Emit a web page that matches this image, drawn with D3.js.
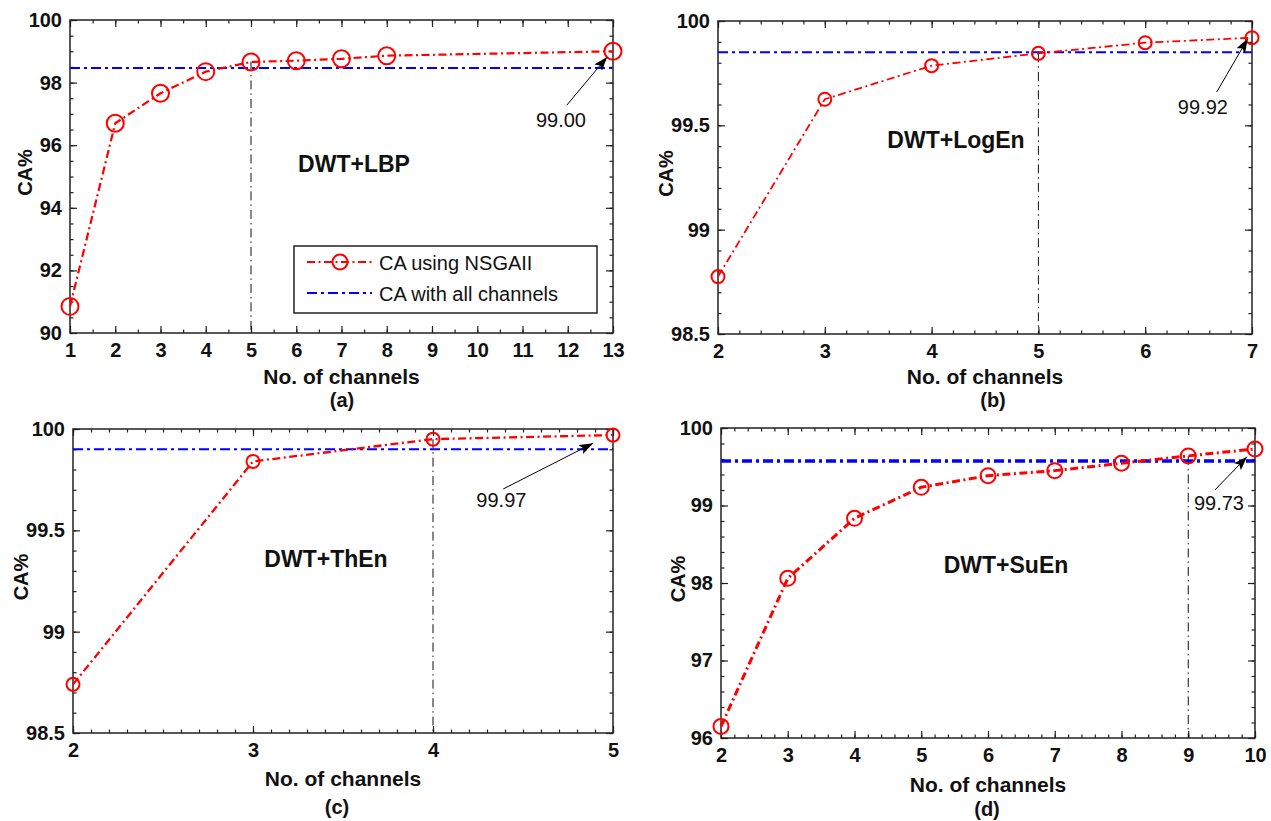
<!DOCTYPE html>
<html><head><meta charset="utf-8">
<script src="https://cdn.jsdelivr.net/npm/d3@7"></script>
<style>
body{margin:0;background:#fff}
text{font-family:"Liberation Sans",Arial,Helvetica,sans-serif;fill:#111}
</style>
</head><body>
<svg id="chart" width="1271" height="821"></svg>
<script>
// ---------------- DATA ----------------
// (a) DWT+LBP
const channelsA = [1, 2, 3, 4, 5, 6, 7, 8, 13];
const caNsgaA   = [90.85, 96.70, 97.66, 98.35, 98.66, 98.70, 98.76, 98.86, 99.00];
const caAllA    = 98.47;
const selectedA = 5;
const xTicksA   = [1, 2, 3, 4, 5, 6, 7, 8, 9, 10, 11, 12, 13];
const yTicksA   = [90, 92, 94, 96, 98, 100];
const annotA    = "99.00";

// (b) DWT+LogEn
const channelsB = [2, 3, 4, 5, 6, 7];
const caNsgaB   = [98.775, 99.625, 99.786, 99.845, 99.896, 99.92];
const caAllB    = 99.85;
const selectedB = 5;
const xTicksB   = [2, 3, 4, 5, 6, 7];
const yTicksB   = [98.5, 99, 99.5, 100];
const annotB    = "99.92";

// (c) DWT+ThEn
const channelsC = [2, 3, 4, 5];
const caNsgaC   = [98.74, 99.84, 99.95, 99.97];
const caAllC    = 99.90;
const selectedC = 4;
const xTicksC   = [2, 3, 4, 5];
const yTicksC   = [98.5, 99, 99.5, 100];
const annotC    = "99.97";

// (d) DWT+SuEn
const channelsD = [2, 3, 4, 5, 6, 7, 8, 9, 10];
const caNsgaD   = [96.15, 98.06, 98.835, 99.235, 99.385, 99.45, 99.545, 99.64, 99.73];
const caAllD    = 99.575;
const selectedD = 9;
const xTicksD   = [2, 3, 4, 5, 6, 7, 8, 9, 10];
const yTicksD   = [96, 97, 98, 99, 100];
const annotD    = "99.73";

const legendLabels = ["CA using NSGAII", "CA with all channels"];
const xAxisTitle = "No. of channels";
const yAxisTitle = "CA%";

// ---------------- LAYOUT / STYLE ----------------
const panels = [
  {xs: channelsA, ys: caNsgaA, all: caAllA, sel: selectedA, xt: xTicksA, yt: yTicksA, ann: annotA,
   title: "DWT+LBP", cap: "(a)",
   left: 70, right: 613, top: 20, bottom: 333, xd: [1, 13], yd: [90, 100], xm: 0.5, ym: 0.5,
   r: 8.5, rw: 2.2, bw: 2,
   titleX: 354, titleY: 172, ylabX: 32, xlabY: 384, capX: 342, capY: 407,
   annPos: [11.85, 96.58], annTail: [11.98, 97.28], annHead: [12.87, 98.82], legend: true},
  {xs: channelsB, ys: caNsgaB, all: caAllB, sel: selectedB, xt: xTicksB, yt: yTicksB, ann: annotB,
   title: "DWT+LogEn", cap: "(b)",
   left: 718, right: 1252, top: 21, bottom: 334, xd: [2, 7], yd: [98.5, 100], xm: 0.2, ym: 0.1,
   r: 6.5, rw: 1.8, bw: 2,
   titleX: 956, titleY: 148, ylabX: 673, xlabY: 384, capX: 993, capY: 407,
   annPos: [6.54, 99.554], annTail: [6.67, 99.66], annHead: [6.96, 99.915]},
  {xs: channelsC, ys: caNsgaC, all: caAllC, sel: selectedC, xt: xTicksC, yt: yTicksC, ann: annotC,
   title: "DWT+ThEn", cap: "(c)",
   left: 73, right: 613, top: 429, bottom: 733, xd: [2, 5], yd: [98.5, 100], xm: 0.1, ym: 0.1,
   r: 6.5, rw: 2.3, bw: 2.2,
   titleX: 326, titleY: 567, ylabX: 28, xlabY: 786, capX: 337, capY: 814,
   annPos: [4.38, 99.615], annTail: [4.39, 99.704], annHead: [4.89, 99.93]},
  {xs: channelsD, ys: caNsgaD, all: caAllD, sel: selectedD, xt: xTicksD, yt: yTicksD, ann: annotD,
   title: "DWT+SuEn", cap: "(d)",
   left: 721, right: 1255, top: 428, bottom: 738, xd: [2, 10], yd: [96, 100], xm: 0.2, ym: 0.2,
   r: 7.5, rw: 3, bw: 3.5,
   titleX: 1006, titleY: 573, ylabX: 685, xlabY: 792, capX: 987, capY: 816,
   annPos: [9.46, 98.94], annTail: [9.40, 99.20], annHead: [9.88, 99.63]}
];

const svg = d3.select("#chart");
const defs = svg.append("defs");
defs.append("marker").attr("id", "arrowhead")
  .attr("viewBox", "0 0 14 10").attr("refX", 14).attr("refY", 5)
  .attr("markerWidth", 14).attr("markerHeight", 10)
  .attr("markerUnits", "userSpaceOnUse").attr("orient", "auto")
  .append("path").attr("d", "M0,0 L14,5 L0,10 L3,5 Z").attr("fill", "#000");

function fmt(v) { return String(+v.toFixed(2)); }
function minorRange(d, step) {
  const out = [];
  const n = Math.round((d[1] - d[0]) / step);
  for (let i = 0; i <= n; i++) out.push(+(d[0] + i * step).toFixed(6));
  return out;
}

function drawPanel(p) {
  const g = svg.append("g");
  const x = d3.scaleLinear().domain(p.xd).range([p.left, p.right]);
  const y = d3.scaleLinear().domain(p.yd).range([p.bottom, p.top]);

  const frameColor = "#222";
  const xMinor = minorRange(p.xd, p.xm);
  const yMinor = minorRange(p.yd, p.ym);

  function styleAxis(sel) {
    sel.select(".domain").remove();
    sel.selectAll("line").attr("stroke", frameColor).attr("stroke-width", 1.2);
  }
  // minor ticks on all four sides
  g.append("g").attr("transform", `translate(0,${p.bottom})`)
    .call(d3.axisBottom(x).tickValues(xMinor).tickSize(-3.5).tickFormat("")).call(styleAxis);
  g.append("g").attr("transform", `translate(0,${p.top})`)
    .call(d3.axisTop(x).tickValues(xMinor).tickSize(-3.5).tickFormat("")).call(styleAxis);
  g.append("g").attr("transform", `translate(${p.left},0)`)
    .call(d3.axisLeft(y).tickValues(yMinor).tickSize(-3.5).tickFormat("")).call(styleAxis);
  g.append("g").attr("transform", `translate(${p.right},0)`)
    .call(d3.axisRight(y).tickValues(yMinor).tickSize(-3.5).tickFormat("")).call(styleAxis);
  // major ticks
  const bx = g.append("g").attr("transform", `translate(0,${p.bottom})`)
    .call(d3.axisBottom(x).tickValues(p.xt).tickSizeInner(-7).tickSizeOuter(0).tickPadding(10).tickFormat(fmt))
    .call(styleAxis);
  g.append("g").attr("transform", `translate(0,${p.top})`)
    .call(d3.axisTop(x).tickValues(p.xt).tickSizeInner(-7).tickSizeOuter(0).tickFormat("")).call(styleAxis);
  const ly = g.append("g").attr("transform", `translate(${p.left},0)`)
    .call(d3.axisLeft(y).tickValues(p.yt).tickSizeInner(-7).tickSizeOuter(0).tickPadding(8).tickFormat(fmt))
    .call(styleAxis);
  g.append("g").attr("transform", `translate(${p.right},0)`)
    .call(d3.axisRight(y).tickValues(p.yt).tickSizeInner(-7).tickSizeOuter(0).tickFormat("")).call(styleAxis);
  [bx, ly].forEach(a => a.selectAll("text")
    .attr("font-family", '"Liberation Sans", Arial, sans-serif')
    .attr("font-size", 20).attr("font-weight", "bold").attr("fill", "#111"));

  // frame
  g.append("rect").attr("x", p.left).attr("y", p.top)
    .attr("width", p.right - p.left).attr("height", p.bottom - p.top)
    .attr("fill", "none").attr("stroke", frameColor).attr("stroke-width", 1.5);

  // horizontal: CA with all channels
  g.append("line")
    .attr("x1", x(p.xd[0])).attr("x2", x(p.xd[1]))
    .attr("y1", y(p.all)).attr("y2", y(p.all))
    .attr("stroke", "#0000ff").attr("stroke-width", p.bw)
    .attr("stroke-dasharray", "10,4,3,4");

  // vertical selection line
  const selIdx = p.xs.indexOf(p.sel);
  g.append("line")
    .attr("x1", x(p.sel)).attr("x2", x(p.sel))
    .attr("y1", y(p.ys[selIdx])).attr("y2", y(p.yd[0]))
    .attr("stroke", "#111").attr("stroke-width", 1)
    .attr("stroke-dasharray", "9,4,1.5,4");

  // red line + markers
  const pts = p.xs.map((v, i) => [v, p.ys[i]]);
  g.append("path").datum(pts)
    .attr("d", d3.line().x(d => x(d[0])).y(d => y(d[1])))
    .attr("fill", "none").attr("stroke", "#ff0000").attr("stroke-width", p.rw)
    .attr("stroke-dasharray", "8,3.5,2,3.5");
  g.selectAll("circle.m").data(pts).join("circle").attr("class", "m")
    .attr("cx", d => x(d[0])).attr("cy", d => y(d[1])).attr("r", p.r)
    .attr("fill", "none").attr("stroke", "#ff0000").attr("stroke-width", 2);

  // annotation
  g.append("line")
    .attr("x1", x(p.annTail[0])).attr("y1", y(p.annTail[1]))
    .attr("x2", x(p.annHead[0])).attr("y2", y(p.annHead[1]))
    .attr("stroke", "#000").attr("stroke-width", 1)
    .attr("marker-end", "url(#arrowhead)");
  g.append("text").attr("x", x(p.annPos[0])).attr("y", y(p.annPos[1]))
    .attr("text-anchor", "middle").attr("font-size", 20).text(p.ann);

  // titles
  g.append("text").attr("x", p.titleX).attr("y", p.titleY).attr("text-anchor", "middle")
    .attr("font-size", 23).attr("font-weight", "bold").text(p.title);
  g.append("text").attr("x", (p.left + p.right) / 2).attr("y", p.xlabY).attr("text-anchor", "middle")
    .attr("font-size", 21).attr("font-weight", "bold").text(xAxisTitle);
  g.append("text").attr("x", p.capX).attr("y", p.capY).attr("text-anchor", "middle")
    .attr("font-size", 20).attr("font-weight", "bold").text(p.cap);
  const cy = (p.top + p.bottom) / 2 - 4;
  g.append("text").attr("transform", `translate(${p.ylabX},${cy}) rotate(-90)`)
    .attr("text-anchor", "middle").attr("font-size", 20).attr("font-weight", "bold").text(yAxisTitle);

  // legend
  if (p.legend) {
    const lx = 294, lyy = 246, lw = 303, lh = 67;
    const lg = g.append("g");
    lg.append("rect").attr("x", lx).attr("y", lyy).attr("width", lw).attr("height", lh)
      .attr("fill", "#fff").attr("stroke", "#222").attr("stroke-width", 1.5);
    const rows = [lyy + 16, lyy + 47];
    lg.append("line").attr("x1", lx + 13).attr("x2", lx + 78).attr("y1", rows[0]).attr("y2", rows[0])
      .attr("stroke", "#ff0000").attr("stroke-width", 2).attr("stroke-dasharray", "8,3.5,2,3.5");
    lg.append("circle").attr("cx", lx + 46).attr("cy", rows[0]).attr("r", 7.5)
      .attr("fill", "none").attr("stroke", "#ff0000").attr("stroke-width", 2);
    lg.append("line").attr("x1", lx + 13).attr("x2", lx + 78).attr("y1", rows[1]).attr("y2", rows[1])
      .attr("stroke", "#0000ff").attr("stroke-width", 2).attr("stroke-dasharray", "10,4,3,4");
    legendLabels.forEach((t, i) => {
      lg.append("text").attr("x", lx + 85).attr("y", rows[i] + 8)
        .attr("font-size", 20).text(t);
    });
  }
}

panels.forEach(drawPanel);
</script>
</body></html>
